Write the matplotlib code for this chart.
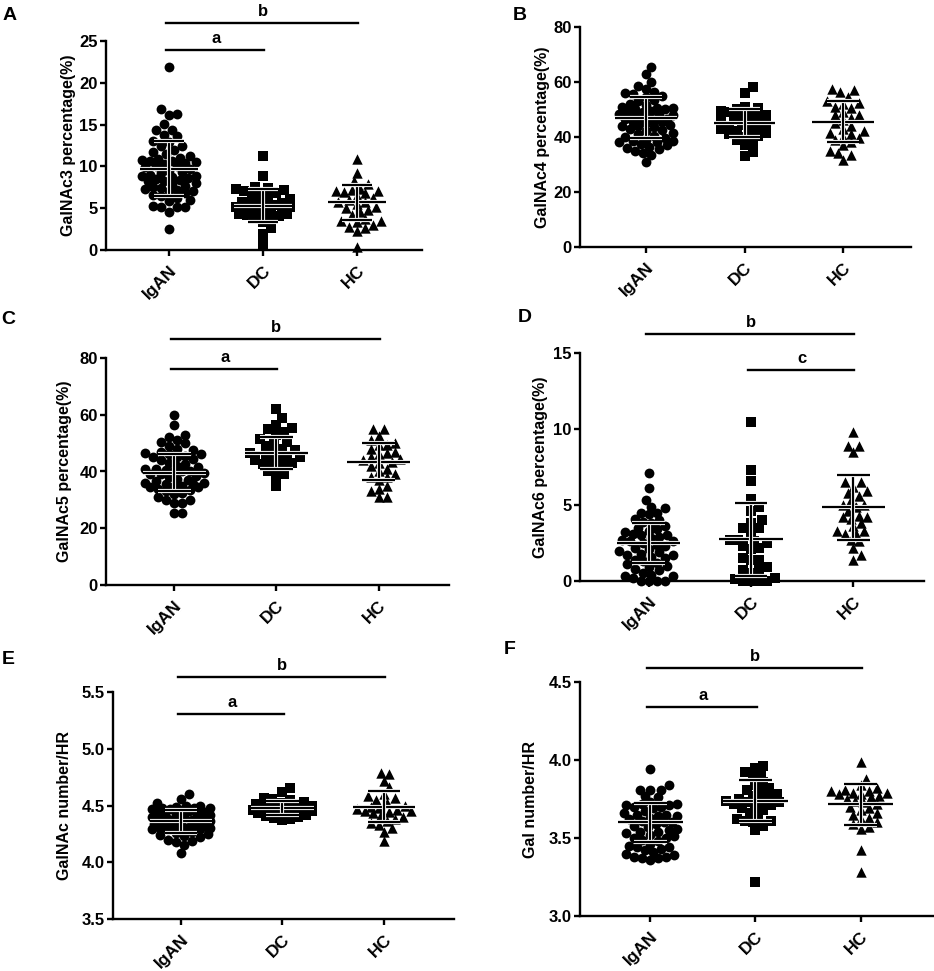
import matplotlib
matplotlib.use('Agg')
import matplotlib.pyplot as plt
import matplotlib.patheffects as pe
import numpy as np

plt.rcParams['font.family'] = ['Liberation Sans', 'DejaVu Sans']
plt.rcParams['font.weight'] = 'bold'

groups = ['IgAN', 'DC', 'HC']

# ---------------- data ----------------
A_IgAN = [21.9, 16.9, 16.3, 16.2, 15.1, 14.4, 14.3, 13.8, 13.6, 13.0, 12.9, 12.5, 12.4,
          12.0, 11.7, 11.5, 11.3, 11.0, 10.9, 10.8, 10.7, 10.6, 10.5, 10.4, 10.3, 10.1, 10.0,
          9.9, 9.7, 9.5, 9.3, 9.2, 9.0, 8.9, 8.8, 8.7, 8.6, 8.5, 8.4, 8.3, 8.2, 8.0,
          7.9, 7.7, 7.5, 7.4, 7.3, 7.2, 7.1, 7.0, 6.8, 6.6, 6.4, 6.2, 6.0, 5.9,
          5.3, 5.2, 5.2, 5.1, 4.5, 2.5]
A_DC = [11.2, 8.8, 7.5, 7.4, 7.3, 7.2, 7.0, 6.9, 6.8, 6.6, 6.4, 6.1, 5.9, 5.7, 5.6, 5.5,
        5.4, 5.3, 5.2, 5.1, 5.0, 4.9, 4.8, 4.6, 4.5, 4.4, 4.3, 4.3, 4.2, 4.1, 3.9, 3.6,
        3.4, 2.6, 1.9, 0.7]
A_HC = [10.9, 9.2, 8.2, 7.9, 7.3, 7.2, 7.1, 7.0, 6.9, 6.8, 6.5, 6.2, 6.0, 5.8, 5.7, 5.5,
        5.2, 5.0, 4.8, 4.5, 4.2, 3.7, 3.5, 3.5, 3.4, 3.0, 2.8, 2.6, 2.3, 0.4]
A_mean = [9.7, 5.3, 5.7]
A_sd = [3.3, 2.0, 2.1]

B_IgAN = [65.5, 63.0, 60.0, 58.5, 57.5, 56.5, 56.0, 55.5, 55.0, 54.5, 53.5, 53.0, 52.0,
          51.5, 51.0, 50.5, 50.5, 50.0, 50.0, 49.5, 49.0, 49.0, 48.5, 48.0, 48.0, 47.5,
          47.0, 46.5, 46.5, 46.0, 46.0, 45.5, 45.5, 45.0, 44.5, 44.0, 44.0, 43.5, 43.0,
          42.5, 42.0, 41.5, 41.0, 40.5, 40.0, 39.5, 39.0, 38.5, 38.5, 38.0, 38.0, 37.5,
          37.0, 36.5, 36.0, 35.5, 35.0, 34.0, 33.5, 31.0]
B_DC = [58.0, 56.0, 51.0, 50.5, 50.0, 49.5, 49.0, 48.5, 48.0, 47.5, 47.0, 46.5, 46.0,
        45.5, 45.0, 44.5, 44.0, 43.5, 43.0, 42.5, 42.0, 41.5, 41.0, 40.5, 40.0, 39.0,
        38.0, 37.0, 34.5, 33.0]
B_HC = [57.5, 57.0, 56.5, 54.5, 53.0, 52.5, 52.0, 51.0, 50.5, 49.0, 48.0, 48.0, 47.0,
        46.0, 45.0, 44.0, 43.0, 42.0, 41.5, 41.0, 40.0, 39.5, 39.0, 38.0, 37.0, 35.0,
        34.0, 33.5, 31.5]
B_mean = [47.0, 45.0, 45.5]
B_sd = [7.5, 5.0, 7.5]

C_IgAN = [60.0, 56.5, 53.0, 52.0, 51.0, 50.5, 50.0, 49.0, 48.0, 47.5, 47.0, 46.5, 46.0,
          46.0, 45.5, 45.0, 45.0, 44.5, 44.0, 43.0, 42.5, 42.0, 41.5, 41.0, 41.0, 40.5,
          40.0, 40.0, 40.0, 39.5, 39.0, 39.0, 38.5, 38.0, 37.5, 37.0, 36.5, 36.0, 36.0,
          35.5, 35.5, 35.0, 35.0, 34.5, 34.5, 34.0, 33.5, 33.0, 32.5, 32.0, 31.0, 30.0,
          30.0, 29.0, 29.0, 25.5, 25.5]
C_DC = [62.0, 59.0, 56.5, 55.5, 55.0, 54.0, 53.0, 51.5, 50.5, 50.0, 49.0, 48.0, 47.5,
        47.0, 46.5, 46.0, 45.5, 45.0, 44.5, 44.0, 43.5, 43.0, 42.5, 42.0, 41.0, 40.0,
        39.0, 38.0, 35.0]
C_HC = [55.0, 55.0, 52.5, 51.0, 50.0, 49.5, 49.5, 48.0, 47.0, 46.5, 46.0, 45.0, 44.5,
        44.0, 43.5, 43.0, 42.0, 41.0, 40.0, 39.0, 38.0, 38.0, 37.0, 35.0, 34.0, 33.0,
        31.0, 31.0]
C_mean = [39.6, 46.5, 43.5]
C_sd = [6.5, 5.6, 6.5]

D_IgAN = [7.1, 6.1, 5.3, 4.9, 4.8, 4.5, 4.5, 4.4, 4.1, 4.0, 3.9, 3.8, 3.6, 3.5, 3.4, 3.3,
          3.2, 3.1, 3.0, 3.0, 2.9, 2.8, 2.7, 2.6, 2.6, 2.5, 2.4, 2.3, 2.2, 2.1, 2.0, 1.9,
          1.8, 1.7, 1.7, 1.6, 1.5, 1.4, 1.3, 1.2, 1.1, 1.0, 0.9, 0.8, 0.7, 0.5, 0.4, 0.3,
          0.3, 0.2, 0.0, 0.0, 0.0, 0.0]
D_DC = [10.45, 7.3, 6.6, 5.4, 4.9, 4.6, 4.0, 3.8, 3.5, 3.5, 3.2, 2.7, 2.7, 2.6, 2.5, 2.3,
        2.2, 2.1, 1.5, 1.4, 1.4, 0.9, 0.7, 0.7, 0.55, 0.2, 0.1, 0.0, 0.0, 0.0, 0.0]
D_HC = [9.8, 8.9, 8.9, 8.5, 6.5, 6.5, 6.2, 5.9, 5.8, 5.6, 5.3, 5.0, 5.0, 4.9, 4.6, 4.3,
        4.2, 4.2, 4.1, 3.8, 3.6, 3.3, 3.3, 3.1, 3.1, 2.7, 2.6, 2.2, 1.7, 1.4]
D_mean = [2.5, 2.75, 4.85]
D_sd = [1.3, 2.4, 2.15]

E_IgAN = [4.60, 4.56, 4.52, 4.50, 4.50, 4.49, 4.48, 4.48, 4.48, 4.47, 4.47, 4.46, 4.45,
          4.45, 4.44, 4.43, 4.42, 4.42, 4.42, 4.41, 4.40, 4.39, 4.38, 4.38, 4.37, 4.36,
          4.36, 4.35, 4.35, 4.34, 4.33, 4.32, 4.31, 4.31, 4.30, 4.30, 4.30, 4.30, 4.30,
          4.29, 4.29, 4.28, 4.27, 4.26, 4.25, 4.24, 4.23, 4.22, 4.20, 4.19, 4.18, 4.15, 4.08]
E_DC = [4.65, 4.62, 4.57, 4.56, 4.55, 4.53, 4.52, 4.51, 4.50, 4.50, 4.49, 4.49, 4.48,
        4.48, 4.47, 4.47, 4.46, 4.46, 4.45, 4.45, 4.44, 4.44, 4.43, 4.43, 4.42, 4.41,
        4.40, 4.39, 4.38, 4.37]
E_HC = [4.79, 4.78, 4.72, 4.66, 4.60, 4.58, 4.57, 4.55, 4.52, 4.50, 4.49, 4.48, 4.47,
        4.46, 4.45, 4.45, 4.44, 4.43, 4.42, 4.40, 4.38, 4.36, 4.35, 4.33, 4.30, 4.27, 4.19]
E_mean = [4.36, 4.48, 4.49]
E_sd = [0.10, 0.06, 0.135]

F_IgAN = [3.94, 3.84, 3.81, 3.81, 3.81, 3.77, 3.76, 3.73, 3.72, 3.72, 3.71, 3.71, 3.70,
          3.70, 3.69, 3.67, 3.66, 3.65, 3.65, 3.64, 3.64, 3.63, 3.62, 3.61, 3.60, 3.60,
          3.59, 3.58, 3.57, 3.56, 3.55, 3.54, 3.54, 3.53, 3.52, 3.51, 3.50, 3.50, 3.49,
          3.48, 3.46, 3.45, 3.44, 3.44, 3.43, 3.42, 3.41, 3.40, 3.39, 3.38, 3.38, 3.37,
          3.37, 3.36]
F_DC = [3.96, 3.95, 3.92, 3.91, 3.89, 3.86, 3.84, 3.82, 3.81, 3.80, 3.78, 3.77, 3.76,
        3.75, 3.74, 3.74, 3.73, 3.73, 3.72, 3.71, 3.70, 3.69, 3.68, 3.66, 3.64, 3.62,
        3.61, 3.61, 3.60, 3.58, 3.55, 3.22]
F_HC = [3.99, 3.88, 3.84, 3.82, 3.81, 3.80, 3.80, 3.79, 3.79, 3.78, 3.78, 3.77, 3.76,
        3.75, 3.74, 3.73, 3.72, 3.70, 3.69, 3.68, 3.66, 3.65, 3.63, 3.62, 3.60, 3.59,
        3.57, 3.56, 3.42, 3.28]
F_mean = [3.60, 3.74, 3.715]
F_sd = [0.125, 0.13, 0.13]

ylabels = ['GalNAc3 percentage(%)', 'GalNAc4 percentage(%)', 'GalNAc5 percentage(%)',
           'GalNAc6 percentage(%)', 'GalNAc number/HR', 'Gal number/HR']
panel_letters = ['A', 'B', 'C', 'D', 'E', 'F']
yticks_list = [[0, 5, 10, 15, 20, 25], [0, 20, 40, 60, 80], [0, 20, 40, 60, 80],
               [0, 5, 10, 15], [3.5, 4.0, 4.5, 5.0, 5.5], [3.0, 3.5, 4.0, 4.5]]
# significance brackets: (group i, group j, label, y value)
A_brackets = [(0, 1, 'a', 23.9), (0, 2, 'b', 27.2)]
B_brackets = []
C_brackets = [(0, 1, 'a', 76.1), (0, 2, 'b', 86.6)]
D_brackets = [(1, 2, 'c', 13.9), (0, 2, 'b', 16.25)]
E_brackets = [(0, 1, 'a', 5.306), (0, 2, 'b', 5.632)]
F_brackets = [(0, 1, 'a', 4.34), (0, 2, 'b', 4.59)]

panels = [
    ([A_IgAN, A_DC, A_HC], A_mean, A_sd, A_brackets),
    ([B_IgAN, B_DC, B_HC], B_mean, B_sd, B_brackets),
    ([C_IgAN, C_DC, C_HC], C_mean, C_sd, C_brackets),
    ([D_IgAN, D_DC, D_HC], D_mean, D_sd, D_brackets),
    ([E_IgAN, E_DC, E_HC], E_mean, E_sd, E_brackets),
    ([F_IgAN, F_DC, F_HC], F_mean, F_sd, F_brackets),
]

# ---------------- layout (pixels) ----------------
W, H = 934, 971
fig = plt.figure(figsize=(W / 100, H / 100), dpi=100)

# left, right, top, bottom (px); ylabel right edge px; letter pos px
layout = [
    (106, 422, 41, 250, 76, (10, 16)),
    (580, 911, 27, 247, 550, (520, 15)),
    (106, 449, 358, 585, 72, (8, 320)),
    (580, 924, 353, 581, 548, (525, 317)),
    (113, 454, 692, 919, 72, (8, 659)),
    (580, 933, 682, 916, 538, (510, 649)),
]

markers = ['o', 's', '^']
msizes = [50, 44, 56]
XLIM = (-0.67, 2.69)


def swarm_x(ax, xc, vals, dmin, maxw):
    vals = np.asarray(vals, dtype=float)
    order = np.argsort(vals, kind='stable')
    tr = ax.transData
    inv = tr.inverted()
    x0 = tr.transform((xc, 0))[0]
    maxpx = tr.transform((xc + maxw, 0))[0] - x0
    step = dmin / 3.0
    cands = [0.0]
    m = 1
    while m * step <= maxpx:
        cands += [m * step, -m * step]
        m += 1
    placed = []
    xs = np.zeros(len(vals))
    for idx in order:
        cx, cy = tr.transform((xc, vals[idx]))
        best_off, best_d = 0.0, -1.0
        chosen = None
        for off in cands:
            px = cx + off
            if placed:
                P = np.array(placed)
                d = np.sqrt(((P[:, 0] - px) ** 2 + (P[:, 1] - cy) ** 2).min())
            else:
                d = 1e9
            if d >= dmin:
                chosen = off
                break
            if d > best_d + 0.3:
                best_off, best_d = off, d
        if chosen is None:
            chosen = best_off
        placed.append((cx + chosen, cy))
        xs[idx] = inv.transform((cx + chosen, cy))[0]
    return xs


for k, (data, means, sds, brackets) in enumerate(panels):
    left, right, top, bottom, ylab_x, letter_pos = layout[k]
    ax = fig.add_axes([left / W, 1 - bottom / H, (right - left) / W, (bottom - top) / H])
    yt = yticks_list[k]
    ax.set_xlim(*XLIM)
    ax.set_ylim(yt[0], yt[-1])
    for s in ['top', 'right']:
        ax.spines[s].set_visible(False)
    for s in ['left', 'bottom']:
        ax.spines[s].set_linewidth(1.7)
    ax.set_yticks(yt)
    if k >= 4:
        ax.set_yticklabels(['%.1f' % v for v in yt])
    ax.set_xticks(range(3))
    ax.set_xticklabels(groups, rotation=45, ha='right', va='top', rotation_mode='anchor',
                       fontsize=12.5, fontweight='bold')
    ax.tick_params(axis='both', direction='out', length=4, width=1.7, labelsize=12)
    ax.tick_params(axis='x', pad=5, labelsize=12.5)
    ax.tick_params(axis='y', pad=2)
    for lab in ax.get_yticklabels() + ax.get_xticklabels():
        lab.set_fontweight('bold')

    for i, vals in enumerate(data):
        xs = swarm_x(ax, i, vals, 8.0, 0.29)
        ax.scatter(xs, vals, marker=markers[i], s=msizes[i], color='black',
                   linewidths=0, zorder=3, clip_on=False)
        m, sd = means[i], sds[i]
        halo = [pe.withStroke(linewidth=3.0, foreground='white')]
        ax.plot([i - 0.31, i + 0.31], [m, m], color='black', lw=1.6, zorder=4,
                solid_capstyle='butt', path_effects=halo)
        ax.plot([i, i], [m - sd, m + sd], color='black', lw=1.6, zorder=4,
                solid_capstyle='butt', path_effects=halo)
        for yy in (m - sd, m + sd):
            ax.plot([i - 0.16, i + 0.16], [yy, yy], color='black', lw=1.6, zorder=4,
                    solid_capstyle='butt', path_effects=halo)

    for (i, j, lab, yv) in brackets:
        ax.plot([i - 0.03, j + 0.01], [yv, yv], color='black', lw=1.7, clip_on=False)
        ax.annotate(lab, xy=((i + j) / 2, yv), xytext=(0, 5), textcoords='offset points',
                    ha='center', va='baseline', fontsize=12, fontweight='bold',
                    annotation_clip=False)

    ax.set_ylabel(ylabels[k], fontsize=11.5, fontweight='bold')
    ax.yaxis.set_label_coords((ylab_x - left) / (right - left), 0.5)

    fig.text(letter_pos[0] / W, 1 - letter_pos[1] / H, panel_letters[k], fontsize=14,
             fontweight='bold', ha='center', va='center')

fig.savefig('out.png', dpi=100)
